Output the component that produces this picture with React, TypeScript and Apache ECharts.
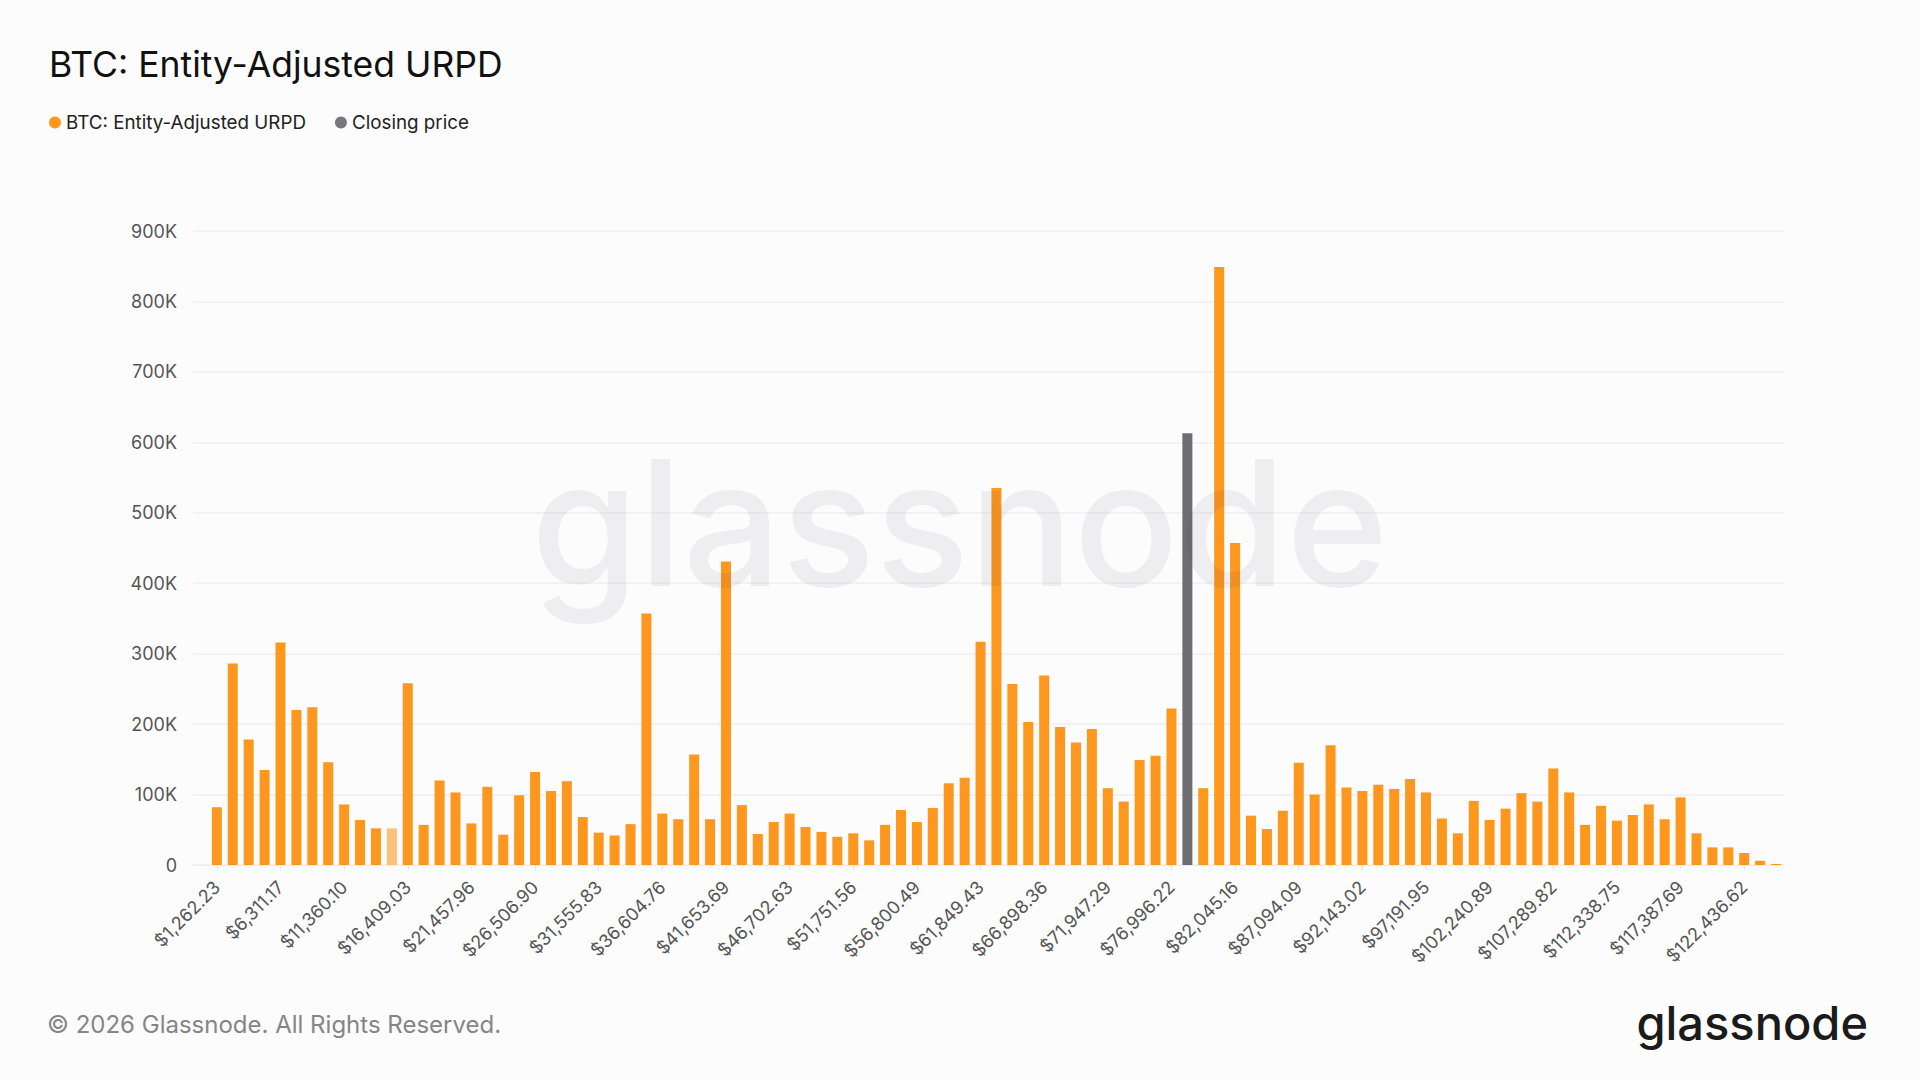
import React, { useEffect, useRef } from "react";
import * as echarts from "echarts";

// Bin index 0..99, labeled every 4th bin starting at bin 1
const TICK_LABELS = [
  "$1,262.23", "$6,311.17", "$11,360.10", "$16,409.03", "$21,457.96", "$26,506.90",
  "$31,555.83", "$36,604.76", "$41,653.69", "$46,702.63", "$51,751.56", "$56,800.49",
  "$61,849.43", "$66,898.36", "$71,947.29", "$76,996.22", "$82,045.16", "$87,094.09",
  "$92,143.02", "$97,191.95", "$102,240.89", "$107,289.82", "$112,338.75", "$117,387.69",
  "$122,436.62",
];
const BIN_WIDTH = 1262.2332;
const BIN_COUNT = 100;
const LABEL_EVERY = 4;
const LABEL_OFFSET = 1;

const URPD_VALUES = [
  0, 82000, 286000, 178000, 135000, 316000, 220000, 224000, 146000, 86000,
  64000, 52000, 52000, 258000, 57000, 120000, 103000, 59000, 111000, 43000,
  99000, 132000, 105000, 119000, 68000, 46000, 42000, 58000, 357000, 73000,
  65000, 157000, 65000, 431000, 85000, 44000, 61000, 73000, 54000, 47000,
  40000, 45000, 35000, 57000, 78000, 61000, 81000, 116000, 124000, 317000,
  535000, 257000, 203000, 269000, 196000, 174000, 193000, 109000, 90000, 149000,
  155000, 222000, 613000, 109000, 849000, 457000, 70000, 51000, 77000, 145000,
  100000, 170000, 110000, 105000, 114000, 108000, 122000, 103000, 66000, 45000,
  91000, 64000, 80000, 102000, 90000, 137000, 103000, 57000, 84000, 63000,
  71000, 86000, 65000, 96000, 45000, 25000, 25000, 17000, 6000, 1500,
];
const CLOSING_INDEX = 62;
const FADED_INDEX = 12;

const Y_MAX = 900000;
const Y_STEP = 100000;

const ORANGE = "#fd971e";
const GREY = "#6e6d72";

const fmtPrice = (v: number) =>
  "$" + v.toLocaleString("en-US", { minimumFractionDigits: 2, maximumFractionDigits: 2 });

const CATEGORIES = Array.from({ length: BIN_COUNT }, (_, k) =>
  (k - LABEL_OFFSET) % LABEL_EVERY === 0 && k >= LABEL_OFFSET
    ? TICK_LABELS[(k - LABEL_OFFSET) / LABEL_EVERY]
    : fmtPrice(k * BIN_WIDTH)
);

export default function App() {
  const ref = useRef<HTMLDivElement>(null);
  useEffect(() => {
    document.body.style.margin = "0";
    const chart = echarts.init(ref.current!, undefined, { renderer: "svg" });
    const font = "Inter, 'Noto Sans', sans-serif";
    const showLabel = (i: number) => i >= LABEL_OFFSET && (i - LABEL_OFFSET) % LABEL_EVERY === 0;

    const urpdData = URPD_VALUES.map((v, i) =>
      i === CLOSING_INDEX ? "-" : i === FADED_INDEX ? { value: v, itemStyle: { opacity: 0.6 } } : v
    );
    const closeData = URPD_VALUES.map((v, i) => (i === CLOSING_INDEX ? v : "-"));

    chart.setOption({
      animation: false,
      backgroundColor: "#fcfcfd",
      textStyle: { fontFamily: font },
      title: {
        text: "BTC: Entity-Adjusted URPD",
        left: 44,
        top: 41,
        textStyle: { fontFamily: font, fontSize: 35.5, fontWeight: 400, color: "#111" },
      },
      legend: {
        left: 44,
        top: 108,
        icon: "circle",
        itemWidth: 12,
        itemHeight: 12,
        itemGap: 29,
        textStyle: { fontFamily: font, fontSize: 18.8, color: "#222" },
        data: [
          { name: "BTC: Entity-Adjusted URPD", itemStyle: { color: ORANGE } },
          { name: "Closing price", itemStyle: { color: "#78777c" } },
        ],
      },
      grid: { left: 193, right: 136, top: 231, bottom: 215, containLabel: false },
      xAxis: {
        type: "category",
        data: CATEGORIES,
        axisLine: { show: true, lineStyle: { color: "#ececee" } },
        axisTick: { show: true, interval: (i: number) => showLabel(i), alignWithLabel: true, length: 5, lineStyle: { color: "#e6e6e8" } },
        axisLabel: {
          interval: (i: number) => showLabel(i),
          rotate: 45,
          fontSize: 18,
          color: "#555",
          margin: 19,
          fontFamily: font,
        },
      },
      yAxis: {
        type: "value",
        min: 0,
        max: Y_MAX,
        interval: Y_STEP,
        axisLine: { show: false },
        axisTick: { show: false },
        splitLine: { lineStyle: { color: "#efeff1", width: 1.5 } },
        axisLabel: {
          fontSize: 18,
          color: "#555",
          margin: 16,
          fontFamily: font,
          formatter: (v: number) => (v === 0 ? "0" : v / 1000 + "K"),
        },
      },
      series: [
        {
          name: "BTC: Entity-Adjusted URPD",
          type: "bar",
          data: urpdData,
          barWidth: 10,
          barGap: "-100%",
          itemStyle: { color: ORANGE },
        },
        {
          name: "Closing price",
          type: "bar",
          data: closeData,
          barWidth: 10,
          barGap: "-100%",
          itemStyle: { color: GREY },
        },
      ],
      graphic: [
        {
          type: "text",
          left: 531,
          top: 435,
          z: 100,
          silent: true,
          style: {
            text: "glassnode",
            fontFamily: font,
            fontSize: 174,
            fontWeight: 500,
            fill: "rgba(70,60,80,0.075)",
          },
        },
        {
          type: "text",
          left: 47,
          top: 1012,
          style: {
            text: "© 2026 Glassnode. All Rights Reserved.",
            fontFamily: font,
            fontSize: 24,
            fill: "#858585",
          },
        },
        {
          type: "text",
          right: 52,
          top: 999,
          style: {
            text: "glassnode",
            fontFamily: font,
            fontSize: 47,
            fontWeight: 500,
            fill: "#1b1b1b",
          },
        },
      ],
    });
    return () => chart.dispose();
  }, []);
  return <div ref={ref} style={{ width: 1920, height: 1080 }} />;
}
